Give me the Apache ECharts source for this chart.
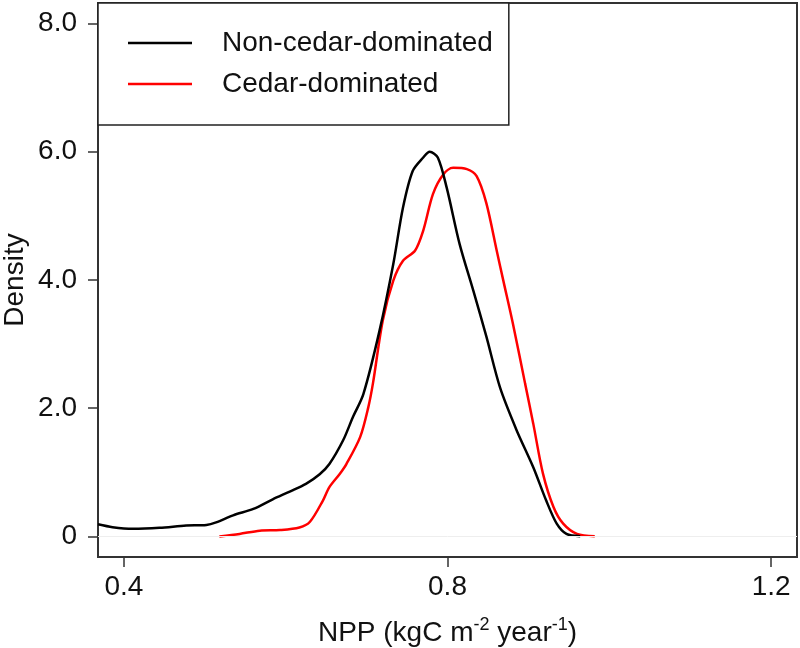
<!DOCTYPE html>
<html>
<head>
<meta charset="utf-8">
<script src="https://cdn.jsdelivr.net/npm/echarts@6/dist/echarts.min.js"></script>
<style>
html,body{margin:0;padding:0;background:#fff;}
#chart{width:800px;height:648px;}
</style>
</head>
<body>
<div id="chart"></div>
<script>
// ---- data ----
const seriesNames = ['Non-cedar-dominated', 'Cedar-dominated'];
const nonCedarX = [0.368,0.386,0.411,0.444,0.477,0.502,0.514,0.535,0.56,0.584,0.605,0.625,0.642,0.654,0.671,0.683,0.696,0.716,0.733,0.745,0.757,0.77,0.778,0.788,0.799,0.815,0.832,0.848,0.865,0.885,0.906,0.922,0.935,0.947,0.964];
const nonCedarY = [0.19,0.145,0.12,0.135,0.17,0.18,0.22,0.33,0.43,0.58,0.70,0.82,0.97,1.13,1.50,1.86,2.22,3.21,4.25,5.13,5.70,5.91,6.0,5.91,5.44,4.56,3.83,3.12,2.32,1.67,1.08,0.56,0.20,0.04,0.005];
const cedarX = [0.518,0.543,0.568,0.593,0.617,0.63,0.646,0.654,0.667,0.675,0.692,0.702,0.708,0.72,0.733,0.745,0.76,0.77,0.782,0.795,0.807,0.824,0.836,0.848,0.861,0.869,0.881,0.896,0.906,0.918,0.931,0.943,0.96,0.982];
const cedarY = [0.0,0.04,0.09,0.10,0.14,0.23,0.56,0.77,0.98,1.13,1.55,2.01,2.40,3.37,3.99,4.30,4.46,4.77,5.34,5.65,5.75,5.73,5.62,5.20,4.45,3.99,3.31,2.38,1.76,0.98,0.46,0.20,0.04,0.005];
const xTicks = [0.4, 0.8, 1.2];
const yTicks = [0, 2, 4, 6, 8];
const xRange = [0.368, 1.232];
const yRange = [-0.32, 8.32];

const zip = (xs, ys) => xs.map((x, i) => [x, ys[i]]);
const FONT = "'Liberation Sans', Arial, sans-serif";

const chart = echarts.init(document.getElementById('chart'), null, {renderer: 'canvas'});
chart.setOption({
  animation: false,
  backgroundColor: '#fff',
  textStyle: {fontFamily: FONT},
  grid: {
    left: 98, right: 3, top: 3, bottom: 91,
    outerBoundsMode: 'none',
    containLabel: false,
    show: true, borderColor: '#333', borderWidth: 2, backgroundColor: 'transparent'
  },
  legend: {
    orient: 'vertical',
    left: 98, top: 3,
    padding: [26, 16, 27, 30],
    itemGap: 13,
    itemWidth: 64,
    itemHeight: 2.5,
    icon: 'rect',
    backgroundColor: '#fff',
    borderColor: '#222',
    borderWidth: 1.5,
    textStyle: {fontSize: 28, lineHeight: 28, color: '#111', fontFamily: FONT, padding: [0, 0, 0, 25]},
    data: seriesNames
  },
  xAxis: {
    type: 'value',
    min: xRange[0], max: xRange[1],
    name: 'NPP (kgC m{sup|-2} year{sup|-1})',
    nameLocation: 'middle',
    nameGap: 59,
    nameMoveOverlap: false,
    nameTextStyle: {
      fontSize: 28, color: '#111', fontFamily: FONT, lineHeight: 34,
      rich: {sup: {fontSize: 18, verticalAlign: 'top', color: '#111', fontFamily: FONT, lineHeight: 34}}
    },
    axisLine: {show: false, onZero: false},
    splitLine: {show: false},
    axisTick: {show: true, inside: false, length: 10, customValues: xTicks, lineStyle: {color: '#333', width: 1.5}},
    axisLabel: {customValues: xTicks, fontSize: 28, color: '#111', margin: 16, fontFamily: FONT,
      formatter: v => v.toFixed(1)}
  },
  yAxis: {
    type: 'value',
    min: yRange[0], max: yRange[1],
    name: 'Density',
    nameLocation: 'middle',
    nameRotate: 90,
    nameGap: 69,
    nameMoveOverlap: false,
    nameTextStyle: {fontSize: 28, color: '#111', fontFamily: FONT},
    axisLine: {show: false, onZero: false},
    splitLine: {show: false},
    axisTick: {show: true, inside: false, length: 10, customValues: yTicks, lineStyle: {color: '#333', width: 1.5}},
    axisLabel: {customValues: yTicks, fontSize: 28, color: '#111', margin: 21, fontFamily: FONT,
      formatter: v => (v === 0 ? '0' : v.toFixed(1))}
  },
  series: [
    {
      name: seriesNames[0],
      type: 'line',
      data: zip(nonCedarX, nonCedarY),
      smooth: 0.3,
      showSymbol: false,
      symbol: 'none',
      lineStyle: {color: '#000', width: 2.5},
      itemStyle: {color: '#000'},
      z: 3,
      markLine: {
        silent: true, symbol: 'none', label: {show: false},
        lineStyle: {color: '#eeeeee', width: 1, type: 'solid'},
        data: [{yAxis: 0}]
      }
    },
    {
      name: seriesNames[1],
      type: 'line',
      data: zip(cedarX, cedarY),
      smooth: 0.3,
      showSymbol: false,
      symbol: 'none',
      lineStyle: {color: '#ff0000', width: 2.5},
      itemStyle: {color: '#ff0000'},
      z: 2
    }
  ]
});
</script>
</body>
</html>
